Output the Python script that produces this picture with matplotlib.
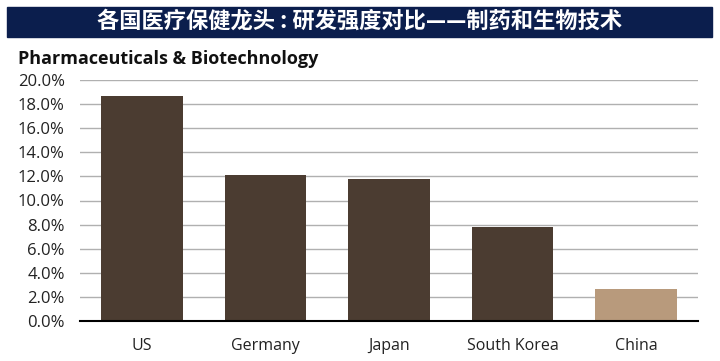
import matplotlib.pyplot as plt
from matplotlib.patches import Rectangle

# 数据
countries = ['US', 'Germany', 'Japan', 'South Korea', 'China']
rd_intensity = [18.7, 12.1, 11.8, 7.8, 2.65]
bar_colors = ['#4b3c31', '#4b3c31', '#4b3c31', '#4b3c31', '#b89a7c']
yticks = [0, 2, 4, 6, 8, 10, 12, 14, 16, 18, 20]

plt.rcParams['font.family'] = ['Open Sans', 'Noto Sans CJK SC', 'DejaVu Sans']

fig = plt.figure(figsize=(7.2, 3.61), dpi=100)
W, H = 720, 361

# barra del título
fig.patches.append(Rectangle((7 / W, 1 - 37 / H), 705 / W, 30 / H,
                             transform=fig.transFigure, color='#0b1e4d', zorder=0))
fig.text(0.5, 1 - 21 / H, '各国医疗保健龙头 : 研发强度对比——制药和生物技术',
         ha='center', va='center', color='white', fontsize=16, fontweight='bold',
         family=['Noto Sans CJK SC', 'DejaVu Sans'])
fig.text(18 / W, 1 - 59 / H, 'Pharmaceuticals & Biotechnology',
         ha='left', va='center', fontsize=13, fontweight='bold', color='#111111')

ax = fig.add_axes([80 / W, 1 - 321 / H, 618 / W, 241 / H])
ax.bar(range(len(countries)), rd_intensity, width=0.66, color=bar_colors, zorder=3)
ax.set_xlim(-0.5, 4.5)
ax.set_ylim(0, 20)
ax.set_yticks(yticks)
ax.set_yticklabels([f'{v:.1f}%' for v in yticks], fontsize=12)
ax.set_xticks(range(len(countries)))
ax.set_xticklabels(countries, fontsize=11.5)
ax.yaxis.grid(True, color='#b0b0b0', linewidth=1)
ax.set_axisbelow(True)
for s in ['top', 'right', 'left']:
    ax.spines[s].set_visible(False)
ax.spines['bottom'].set_linewidth(1.5)
ax.spines['bottom'].set_zorder(4)
ax.tick_params(axis='both', length=0, colors='#222222')
ax.tick_params(axis='x', pad=12)
ax.tick_params(axis='y', pad=11)

plt.savefig('out.png', dpi=100)
